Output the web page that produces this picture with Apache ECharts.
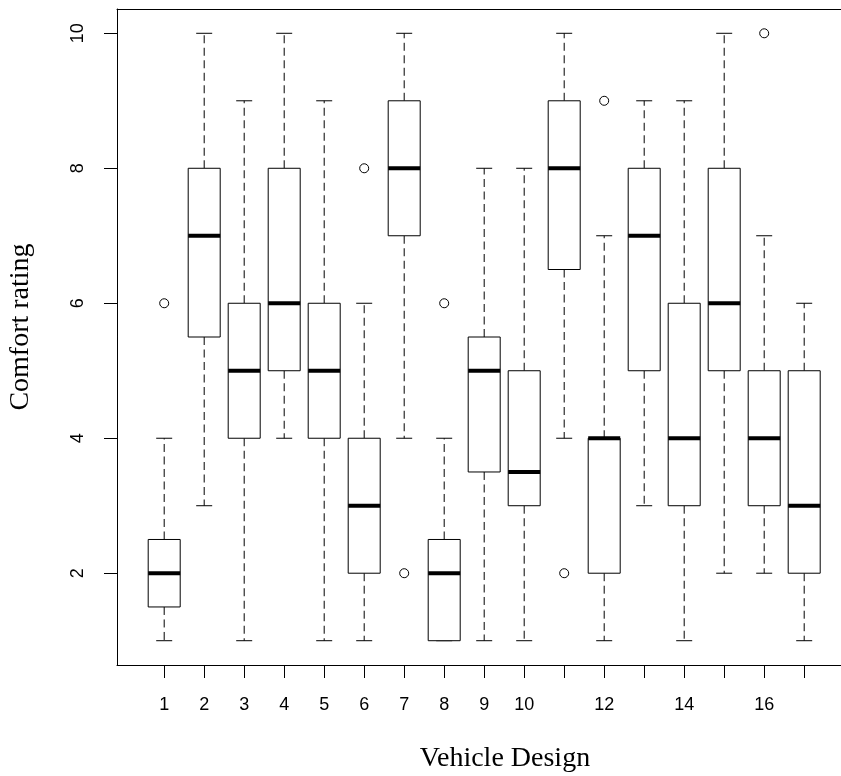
<!DOCTYPE html>
<html>
<head>
<meta charset="utf-8">
<script src="https://cdn.jsdelivr.net/npm/echarts@6/dist/echarts.min.js"></script>
<style>
  html, body { margin: 0; padding: 0; background: #fff; }
  #chart { width: 841px; height: 776px; }
</style>
</head>
<body>
<div id="chart"></div>
<script>
// Comfort ratings per vehicle design: five-number summaries and outliers
const designs = [1, 2, 3, 4, 5, 6, 7, 8, 9, 10, 11, 12, 13, 14, 15, 16, 17];
const lowerWhisker = [1, 3, 1, 4, 1, 1, 4, 1, 1, 1, 4, 1, 3, 1, 2, 2, 1];
const lowerHinge   = [1.5, 5.5, 4, 5, 4, 2, 7, 1, 3.5, 3, 6.5, 2, 5, 3, 5, 3, 2];
const medians      = [2, 7, 5, 6, 5, 3, 8, 2, 5, 3.5, 8, 4, 7, 4, 6, 4, 3];
const upperHinge   = [2.5, 8, 6, 8, 6, 4, 9, 2.5, 5.5, 5, 9, 4, 8, 6, 8, 5, 5];
const upperWhisker = [4, 10, 9, 10, 9, 6, 10, 4, 8, 8, 10, 7, 9, 9, 10, 7, 6];
const outlierDesign = [1, 6, 7, 8, 11, 12, 16];
const outlierValue  = [6, 8, 2, 6, 2, 9, 10];

const yTicks = [2, 4, 6, 8, 10];
const xTickLabels = [1, 2, 3, 4, 5, 6, 7, 8, 9, 10, 12, 14, 16];

const X_MIN = -0.18, X_MAX = 17.92;
const Y_MIN = 0.64, Y_MAX = 10.36;
const BOX_HALF = 0.4;    // half box width in design units
const CAP_HALF = 0.2;    // half whisker-cap width in design units

const boxData = designs.map((d, i) => [d, lowerWhisker[i], lowerHinge[i], medians[i], upperHinge[i], upperWhisker[i]]);
const outlierData = outlierDesign.map((d, i) => [d, outlierValue[i]]);

function renderBox(params, api) {
  const x = api.value(0);
  const lw = api.value(1), q1 = api.value(2), md = api.value(3), q3 = api.value(4), uw = api.value(5);
  const xL = api.coord([x - BOX_HALF, q1])[0];
  const xR = api.coord([x + BOX_HALF, q1])[0];
  const cL = api.coord([x - CAP_HALF, q1])[0];
  const cR = api.coord([x + CAP_HALF, q1])[0];
  const cx = api.coord([x, q1])[0];
  const yLW = api.coord([x, lw])[1];
  const yQ1 = api.coord([x, q1])[1];
  const yMD = api.coord([x, md])[1];
  const yQ3 = api.coord([x, q3])[1];
  const yUW = api.coord([x, uw])[1];
  const line = { stroke: '#000', lineWidth: 1 };
  const dashed = { stroke: '#000', lineWidth: 1, lineDash: [8, 4.5] };
  return {
    type: 'group',
    children: [
      { type: 'line', shape: { x1: cx, y1: yQ3, x2: cx, y2: yUW }, style: dashed },
      { type: 'line', shape: { x1: cx, y1: yQ1, x2: cx, y2: yLW }, style: dashed },
      { type: 'line', shape: { x1: cL, y1: yUW, x2: cR, y2: yUW }, style: line },
      { type: 'line', shape: { x1: cL, y1: yLW, x2: cR, y2: yLW }, style: line },
      { type: 'rect', shape: { x: xL, y: yQ3, width: xR - xL, height: yQ1 - yQ3 },
        style: { fill: '#fff', stroke: '#000', lineWidth: 1 } },
      { type: 'line', shape: { x1: xL, y1: yMD, x2: xR, y2: yMD },
        style: { stroke: '#000', lineWidth: 4 } }
    ]
  };
}

const frameLine = { show: true, onZero: false, lineStyle: { color: '#000', width: 1 } };
const tickStyle = { color: '#000', width: 1 };
const labelFont = 'Liberation Sans, Arial, sans-serif';

const chart = echarts.init(document.getElementById('chart'), null, { renderer: 'canvas' });
chart.setOption({
  animation: false,
  backgroundColor: '#fff',
  grid: { left: 117, top: 9, right: 0, bottom: 111, show: false },
  xAxis: [
    {
      type: 'value', position: 'bottom', min: X_MIN, max: X_MAX,
      axisLine: frameLine,
      splitLine: { show: false },
      axisTick: { show: true, inside: false, length: 13, lineStyle: tickStyle, customValues: designs },
      axisLabel: { show: true, margin: 31, color: '#000', fontSize: 18, fontFamily: labelFont,
                   customValues: xTickLabels }
    },
    {
      type: 'value', position: 'top', min: X_MIN, max: X_MAX,
      axisLine: frameLine,
      splitLine: { show: false },
      axisTick: { show: false },
      axisLabel: { show: false }
    }
  ],
  yAxis: {
    type: 'value', min: Y_MIN, max: Y_MAX,
    axisLine: frameLine,
    splitLine: { show: false },
    axisTick: { show: true, inside: false, length: 13, lineStyle: tickStyle, customValues: yTicks },
    axisLabel: { show: true, rotate: 90, margin: 30, color: '#000', fontSize: 18,
                 fontFamily: labelFont, customValues: yTicks }
  },
  series: [
    { type: 'custom', renderItem: renderBox, data: boxData, encode: { x: 0, y: [1, 5] }, z: 2 },
    { type: 'scatter', data: outlierData, symbol: 'circle', symbolSize: 9,
      itemStyle: { color: '#fff', borderColor: '#000', borderWidth: 1, opacity: 1 }, z: 3 }
  ],
  graphic: [
    { type: 'text', x: 505, y: 759, style: { text: 'Vehicle Design', fill: '#000',
      font: '28px "Liberation Serif", "Times New Roman", serif', align: 'center', verticalAlign: 'middle' } },
    { type: 'text', x: 21, y: 327, rotation: Math.PI / 2, style: { text: 'Comfort rating', fill: '#000',
      font: '28px "Liberation Serif", "Times New Roman", serif', align: 'center', verticalAlign: 'middle' } }
  ]
});
</script>
</body>
</html>
